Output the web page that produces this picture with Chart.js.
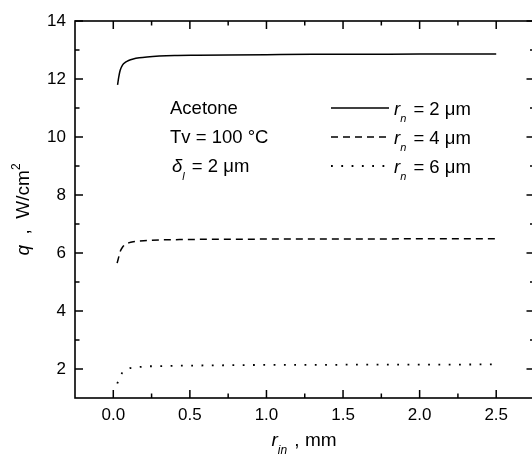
<!DOCTYPE html>
<html><head><meta charset="utf-8">
<script src="https://cdn.jsdelivr.net/npm/chart.js@4"></script>
<style>html,body{margin:0;padding:0;overflow:hidden;background:#fff}canvas{display:block}</style>
</head><body>
<canvas id="c" width="545" height="458"></canvas>
<script>
// ---- data ----
const xRange = [-0.25, 2.75];
const yRange = [1, 14];
const xTicks = [0, 0.5, 1, 1.5, 2, 2.5];
const xMinor = [0.25, 0.75, 1.25, 1.75, 2.25];
const yTicks = [2, 4, 6, 8, 10, 12, 14];
const yMinor = [3, 5, 7, 9, 11, 13];

const rin2 = [0.028,0.035,0.045,0.06,0.08,0.1,0.13,0.17,0.22,0.3,0.4,0.55,0.75,1.0,1.3,1.6,2.0,2.5];
const q2   = [11.8,12.05,12.3,12.48,12.58,12.64,12.69,12.73,12.76,12.79,12.81,12.82,12.83,12.84,12.85,12.85,12.86,12.86];
const rin4 = [0.025,0.035,0.045,0.06,0.08,0.1,0.13,0.17,0.22,0.3,0.4,0.55,0.75,1.0,1.3,1.6,2.0,2.5];
const q4   = [5.65,5.85,6.05,6.2,6.3,6.35,6.39,6.41,6.43,6.45,6.46,6.47,6.47,6.48,6.48,6.48,6.49,6.49];
const rin6 = [0.026,0.035,0.045,0.06,0.08,0.1,0.13,0.17,0.22,0.3,0.4,0.55,0.75,1.0,1.3,1.6,2.0,2.5];
const q6   = [1.5,1.62,1.75,1.88,1.97,2.02,2.05,2.07,2.09,2.1,2.11,2.12,2.13,2.14,2.14,2.15,2.15,2.16];

const seriesNames = ['2', '4', '6'];
const FONT = '"Liberation Sans", Arial, sans-serif';

function pts(xs, ys){ return xs.map((x,i)=>({x:x, y:ys[i]})); }

function fontOf(s, size){
  const sz = (s.sub||s.sup) ? Math.round(size*0.62) : size;
  return (s.i ? 'italic ' : '') + sz + 'px ' + FONT;
}
function rich(ctx, segs, x, y, size, align){
  let w = 0;
  segs.forEach(s=>{ ctx.font = fontOf(s,size); s.w = ctx.measureText(s.t).width + (s.g||0); w += s.w; });
  let cx = align === 'center' ? x - w/2 : x;
  ctx.textAlign = 'left'; ctx.textBaseline = 'alphabetic';
  segs.forEach(s=>{
    ctx.font = fontOf(s,size);
    const dy = s.sub ? size*0.42 : (s.sup ? -size*0.48 : 0);
    ctx.fillText(s.t, cx, y + dy);
    cx += s.w;
  });
}

const decor = {
  id: 'decor',
  afterDraw(chart){
    const ctx = chart.ctx, a = chart.chartArea;
    const xs = chart.scales.x, ys = chart.scales.y;
    ctx.save();
    ctx.strokeStyle = '#000'; ctx.fillStyle = '#000';
    ctx.lineWidth = 1.6;
    ctx.strokeRect(a.left, a.top, a.right - a.left, a.bottom - a.top);
    ctx.lineWidth = 1.5;
    const tick = (list, len) => {
      list.forEach(v=>{
        const px = xs.getPixelForValue(v);
        ctx.beginPath();
        ctx.moveTo(px, a.bottom); ctx.lineTo(px, a.bottom - len);
        ctx.moveTo(px, a.top); ctx.lineTo(px, a.top + len);
        ctx.stroke();
      });
    };
    const ytick = (list, len) => {
      list.forEach(v=>{
        const py = ys.getPixelForValue(v);
        ctx.beginPath();
        ctx.moveTo(a.left, py); ctx.lineTo(a.left + len, py);
        ctx.moveTo(a.right, py); ctx.lineTo(a.right - len, py);
        ctx.stroke();
      });
    };
    tick(xTicks, 8); tick(xMinor, 4.5);
    ytick(yTicks, 8); ytick(yMinor, 4.5);

    // axis titles
    const ts = 19;
    rich(ctx, [{t:'r', i:true}, {t:'in', i:true, sub:true, g:2}, {t:' , mm'}], 304, 446, ts, 'center');
    ctx.save();
    ctx.translate(29, (a.top + a.bottom)/2);
    ctx.rotate(-Math.PI/2);
    rich(ctx, [{t:'q', i:true}, {t:'  ,  W/cm'}, {t:'2', sup:true}], 0, 0, ts, 'center');
    ctx.restore();

    // annotations
    const sz = 18.5;
    rich(ctx, [{t:'Acetone'}], 170, 114, sz);
    rich(ctx, [{t:'Tv = 100 °C'}], 170, 143, sz);
    rich(ctx, [{t:'δ', i:true}, {t:'l', i:true, sub:true, g:2}, {t:' = 2 μm'}], 172, 172, sz);

    // legend
    const rows = [108, 137, 166];
    chart.data.datasets.forEach((ds, i)=>{
      ctx.save();
      ctx.lineWidth = ds.borderWidth;
      ctx.setLineDash(ds.borderDash || []);
      ctx.beginPath();
      ctx.moveTo(331, rows[i]); ctx.lineTo(389, rows[i]);
      ctx.stroke();
      ctx.restore();
      rich(ctx, [{t:'r', i:true}, {t:'n', i:true, sub:true, g:2}, {t:' = ' + seriesNames[i] + ' μm'}], 394, rows[i] + 6.5, sz);
    });
    ctx.restore();
  }
};

new Chart(document.getElementById('c'), {
  type: 'line',
  data: {
    datasets: [
      { data: pts(rin2, q2), borderColor: '#000', borderWidth: 1.5, pointRadius: 0, cubicInterpolationMode: 'monotone' },
      { data: pts(rin4, q4), borderColor: '#000', borderWidth: 1.5, borderDash: [7, 5], pointRadius: 0, cubicInterpolationMode: 'monotone' },
      { data: pts(rin6, q6), borderColor: '#000', borderWidth: 1.8, borderDash: [1.8, 8.5], pointRadius: 0, cubicInterpolationMode: 'monotone' }
    ]
  },
  options: {
    responsive: false, animation: false,
    layout: { padding: { top: 21, right: 10.5, left: 0, bottom: 0 } },
    plugins: { legend: { display: false }, tooltip: { enabled: false } },
    scales: {
      x: {
        type: 'linear', min: xRange[0], max: xRange[1],
        grid: { display: false, drawTicks: false }, border: { display: false },
        afterBuildTicks: s => { s.ticks = xTicks.map(v => ({ value: v })); },
        afterFit: s => { s.height = 60; },
        ticks: { color: '#000', padding: 7, maxRotation: 0, autoSkip: false,
          font: { family: FONT, size: 17 }, callback: v => Number(v).toFixed(1) }
      },
      y: {
        type: 'linear', min: yRange[0], max: yRange[1],
        grid: { display: false, drawTicks: false }, border: { display: false },
        afterBuildTicks: s => { s.ticks = yTicks.map(v => ({ value: v })); },
        afterFit: s => { s.width = 75; },
        ticks: { color: '#000', padding: 9, autoSkip: false,
          font: { family: FONT, size: 17 }, callback: v => String(v) }
      }
    }
  },
  plugins: [decor]
});
</script>
</body></html>
